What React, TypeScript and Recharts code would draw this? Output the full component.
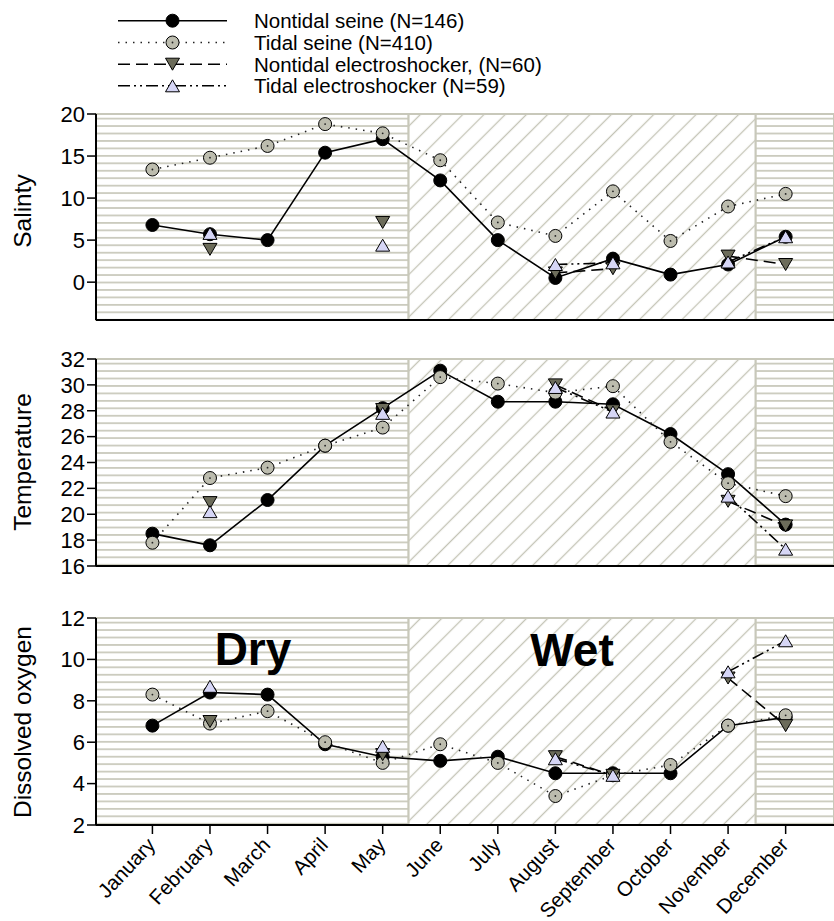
import React from 'react';
import { LineChart, Line, XAxis, YAxis, ReferenceArea } from 'recharts';

// ---- Data ----
const months = ['January', 'February', 'March', 'April', 'May', 'June', 'July', 'August', 'September', 'October', 'November', 'December'];

const seriesNames = [
  'Nontidal seine (N=146)',
  'Tidal seine (N=410)',
  'Nontidal electroshocker, (N=60)',
  'Tidal electroshocker (N=59)',
];

const salNS = [6.8, 5.7, 5.0, 15.4, 17.0, 12.1, 5.0, 0.5, 2.8, 0.9, 2.1, 5.4];
const salTS = [13.4, 14.8, 16.2, 18.8, 17.7, 14.5, 7.1, 5.5, 10.8, 4.9, 9.0, 10.5];
const salNE = [null, 3.9, null, null, 7.1, null, null, 1.1, 1.6, null, 3.1, 2.1];
const salTE = [null, 5.8, null, null, 4.4, null, null, 2.1, 2.3, null, 2.4, 5.4];

const tempNS = [18.5, 17.6, 21.1, 25.3, 28.2, 31.1, 28.7, 28.7, 28.5, 26.2, 23.1, 19.2];
const tempTS = [17.8, 22.8, 23.6, 25.3, 26.7, 30.6, 30.1, 29.4, 29.9, 25.6, 22.4, 21.4];
const tempNE = [null, 20.9, null, null, 28.1, null, null, 30.0, 28.0, null, 21.0, 19.1];
const tempTE = [null, 20.2, null, null, 27.8, null, null, 29.8, 27.9, null, 21.4, 17.3];

const doNS = [6.8, 8.4, 8.3, 5.9, 5.3, 5.1, 5.3, 4.5, 4.5, 4.5, 6.8, 7.2];
const doTS = [8.3, 6.9, 7.5, 6.0, 5.0, 5.9, 5.0, 3.4, 4.4, 4.9, 6.8, 7.3];
const doNE = [null, 7.0, null, null, 5.4, null, null, 5.3, 4.4, null, 9.1, 6.8];
const doTE = [null, 8.7, null, null, 5.8, null, null, 5.2, 4.4, null, 9.4, 10.9];

const salTicks = [0, 5, 10, 15, 20];
const tempTicks = [16, 18, 20, 22, 24, 26, 28, 30, 32];
const doTicks = [2, 4, 6, 8, 10, 12];

// season boundaries (in month-position units)
const dryEnd = 5.45;
const wetEnd = 11.48;
const xMin = 0.02;
const xMax = 12.84;

const FONT = '"Liberation Sans", Arial, sans-serif';

const build = (ns, ts, ne, te) =>
  months.map((m, i) => ({ x: i + 1, month: m, ns: ns[i], ts: ts[i], ne: ne[i], te: te[i] }));

const salData = build(salNS, salTS, salNE, salTE);
const tempData = build(tempNS, tempTS, tempNE, tempTE);
const doData = build(doNS, doTS, doNE, doTE);

// ---- markers ----
const MARK = {
  black: '#000000',
  gray: '#bcbcae',
  dark: '#6c6c5a',
  lav: '#d6d6f6',
};

const Circle = ({ cx, cy, fill, center }) => (
  <g>
    <circle cx={cx} cy={cy} r={6.5} fill={fill} stroke="#000" strokeWidth={1} />
    {center && <circle cx={cx} cy={cy} r={0.9} fill="#222" />}
  </g>
);
const TriDown = ({ cx, cy }) => (
  <polygon points={`${cx - 7},${cy - 6} ${cx + 7},${cy - 6} ${cx},${cy + 6}`} fill={MARK.dark} stroke="#000" strokeWidth={1} />
);
const TriUp = ({ cx, cy }) => (
  <polygon points={`${cx - 7},${cy + 6} ${cx + 7},${cy + 6} ${cx},${cy - 6}`} fill={MARK.lav} stroke="#000" strokeWidth={1} />
);

const makeDot = (kind) => (props) => {
  const { cx, cy, value, index } = props;
  const k = `${kind}-${index}`;
  if (value === null || value === undefined || cy === null || cy === undefined || isNaN(cy)) return <g key={k} />;
  if (kind === 'ns') return <g key={k}><Circle cx={cx} cy={cy} fill={MARK.black} /></g>;
  if (kind === 'ts') return <g key={k}><Circle cx={cx} cy={cy} fill={MARK.gray} center /></g>;
  if (kind === 'ne') return <g key={k}><TriDown cx={cx} cy={cy} /></g>;
  return <g key={k}><TriUp cx={cx} cy={cy} /></g>;
};

const STYLES = {
  ns: { stroke: '#000', dash: undefined, width: 1.6 },
  ts: { stroke: '#222', dash: '1.5 6', width: 1.6 },
  ne: { stroke: '#000', dash: '12 6', width: 1.6 },
  te: { stroke: '#000', dash: '12 4 2 4 2 4', width: 1.6 },
};

const MonthTick = (props) => {
  const { x, y, payload } = props;
  const ax = x + 4;
  const ay = y + 10;
  return (
    <text x={ax} y={ay} transform={`rotate(-47 ${ax} ${ay})`} textAnchor="end" fontSize={20.5} fontFamily={FONT} fill="#000">
      {months[payload.value - 1]}
    </text>
  );
};

const Panel = ({ data, domain, ticks, height, xAxisHeight, showMonths }) => (
  <LineChart width={834} height={height} data={data} margin={{ top: 14, right: 0, bottom: 0, left: 0 }}>
    <XAxis
      dataKey="x"
      type="number"
      domain={[xMin, xMax]}
      ticks={[1, 2, 3, 4, 5, 6, 7, 8, 9, 10, 11, 12]}
      allowDataOverflow
      height={xAxisHeight}
      tickSize={9}
      axisLine={{ stroke: '#000', strokeWidth: 2 }}
      tickLine={{ stroke: '#000', strokeWidth: 1.5 }}
      tick={showMonths ? <MonthTick /> : false}
      interval={0}
    />
    <YAxis
      type="number"
      domain={domain}
      ticks={ticks}
      allowDataOverflow
      width={96}
      tickSize={9}
      interval={0}
      axisLine={{ stroke: '#000', strokeWidth: 2 }}
      tickLine={{ stroke: '#000', strokeWidth: 1.5 }}
      tick={{ fontSize: 22, fontFamily: FONT, fill: '#000' }}
    />
    <ReferenceArea x1={xMin} x2={dryEnd} fill="url(#hpat)" fillOpacity={1} stroke="#c8c8ba" strokeWidth={2} ifOverflow="visible" />
    <ReferenceArea x1={dryEnd} x2={wetEnd} fill="url(#dpat)" fillOpacity={1} stroke="#c8c8ba" strokeWidth={2} ifOverflow="visible" />
    <ReferenceArea x1={wetEnd} x2={xMax} fill="url(#hpat)" fillOpacity={1} stroke="#c8c8ba" strokeWidth={2} ifOverflow="visible" />
    {['ns', 'ts', 'ne', 'te'].map((k) => (
      <Line
        key={k}
        type="linear"
        dataKey={k}
        stroke={STYLES[k].stroke}
        strokeWidth={STYLES[k].width}
        strokeDasharray={STYLES[k].dash}
        dot={makeDot(k)}
        activeDot={false}
        connectNulls={false}
        isAnimationActive={false}
      />
    ))}
  </LineChart>
);

const LegendRow = ({ y, kind, label }) => {
  const s = STYLES[kind];
  const mx = 172.5;
  let marker;
  if (kind === 'ns') marker = <Circle cx={mx} cy={y} fill={MARK.black} />;
  else if (kind === 'ts') marker = <Circle cx={mx} cy={y} fill={MARK.gray} center />;
  else if (kind === 'ne') marker = <TriDown cx={mx} cy={y} />;
  else marker = <TriUp cx={mx} cy={y} />;
  return (
    <g>
      <line x1={118} x2={227} y1={y} y2={y} stroke={s.stroke} strokeWidth={s.width} strokeDasharray={s.dash} />
      {marker}
      <text x={254} y={y} dominantBaseline="central" fontSize={20.5} fontFamily={FONT} fill="#000">{label}</text>
    </g>
  );
};

export default function App() {
  const legendY = [20.7, 42.5, 64.2, 85.8];
  const keys = ['ns', 'ts', 'ne', 'te'];
  return (
    <div style={{ position: 'absolute', left: 0, top: 0, width: 834, height: 921, background: '#fff', overflow: 'hidden' }}>
      <svg width={0} height={0} style={{ position: 'absolute' }}>
        <defs>
          <pattern id="hpat" patternUnits="userSpaceOnUse" width={20} height={7.45}>
            <rect x={0} y={0} width={20} height={7.45} fill="#fff" />
            <line x1={0} x2={20} y1={3.7} y2={3.7} stroke="#c8c8ba" strokeWidth={1.7} />
          </pattern>
          <pattern id="dpat" patternUnits="userSpaceOnUse" width={15} height={15} patternTransform="rotate(45)">
            <rect x={0} y={0} width={15} height={15} fill="#fff" />
            <line x1={7.5} x2={7.5} y1={0} y2={15} stroke="#c4c4b6" strokeWidth={1.3} />
          </pattern>
        </defs>
      </svg>
      <div style={{ position: 'absolute', left: 0, top: 100 }}>
        <Panel data={salData} domain={[-4.5, 20]} ticks={salTicks} height={240} xAxisHeight={20} showMonths={false} />
      </div>
      <div style={{ position: 'absolute', left: 0, top: 345 }}>
        <Panel data={tempData} domain={[16, 32]} ticks={tempTicks} height={241} xAxisHeight={20} showMonths={false} />
      </div>
      <div style={{ position: 'absolute', left: 0, top: 604 }}>
        <Panel data={doData} domain={[2, 12]} ticks={doTicks} height={317} xAxisHeight={96} showMonths={true} />
      </div>
      <svg width={834} height={921} style={{ position: 'absolute', left: 0, top: 0, pointerEvents: 'none' }}>
        {keys.map((k, i) => (
          <LegendRow key={k} y={legendY[i]} kind={k} label={seriesNames[i]} />
        ))}
        <text x={31} y={211} transform="rotate(-90 31 211)" textAnchor="middle" fontSize={24.5} fontFamily={FONT} fill="#000">Salinty</text>
        <text x={31} y={462} transform="rotate(-90 31 462)" textAnchor="middle" fontSize={24.5} fontFamily={FONT} fill="#000">Temperature</text>
        <text x={31} y={722} transform="rotate(-90 31 722)" textAnchor="middle" fontSize={24.5} fontFamily={FONT} fill="#000">Dissolved oxygen</text>
        <text x={253} y={665} textAnchor="middle" fontSize={46} fontWeight="bold" fontFamily={FONT} fill="#000">Dry</text>
        <text x={572} y={666} textAnchor="middle" fontSize={46} fontWeight="bold" fontFamily={FONT} fill="#000">Wet</text>
      </svg>
    </div>
  );
}
